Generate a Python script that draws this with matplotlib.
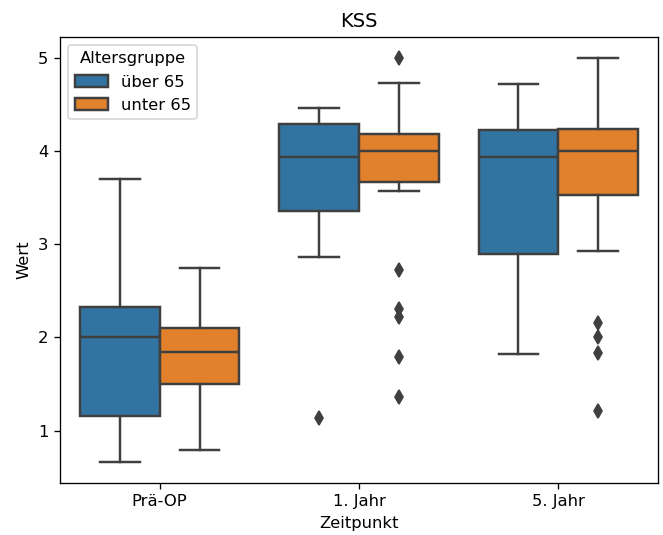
import matplotlib
matplotlib.use("Agg")
import matplotlib.pyplot as plt
from matplotlib.patches import Patch

# Values (box statistics per time point and age group)
zeitpunkte = ["Prä-OP", "1. Jahr", "5. Jahr"]
gruppen = ["über 65", "unter 65"]

# über 65
ueber_whislo = [0.66, 2.86, 1.82]
ueber_q1 = [1.16, 3.36, 2.90]
ueber_med = [2.00, 3.94, 3.94]
ueber_q3 = [2.33, 4.29, 4.22]
ueber_whishi = [3.70, 4.465, 4.72]
ueber_fliers = [[], [1.14], []]

# unter 65
unter_whislo = [0.79, 3.575, 2.93]
unter_q1 = [1.50, 3.67, 3.53]
unter_med = [1.84, 4.00, 4.00]
unter_q3 = [2.10, 4.18, 4.23]
unter_whishi = [2.75, 4.73, 5.00]
unter_fliers = [[], [5.00, 2.72, 2.30, 2.22, 1.79, 1.36], [2.16, 2.00, 1.83, 1.21]]

colors = ["#3274a1", "#e1812c"]
line_col = "#3f3f3f"


def make_stats(whislo, q1, med, q3, whishi, fliers):
    return [dict(whislo=a, q1=b, med=c, q3=d, whishi=e, fliers=f)
            for a, b, c, d, e, f in zip(whislo, q1, med, q3, whishi, fliers)]


DPI = 118
fig = plt.figure(figsize=(663 / DPI, 535 / DPI), dpi=DPI)
ax = fig.add_axes([0.0905, 0.0978, 0.902, 0.8336])

all_stats = [
    make_stats(ueber_whislo, ueber_q1, ueber_med, ueber_q3, ueber_whishi, ueber_fliers),
    make_stats(unter_whislo, unter_q1, unter_med, unter_q3, unter_whishi, unter_fliers),
]
offsets = [-0.2, 0.2]

for stats, off, col in zip(all_stats, offsets, colors):
    pos = [i + off for i in range(len(zeitpunkte))]
    ax.bxp(stats, positions=pos, widths=0.4, patch_artist=True, manage_ticks=False,
           boxprops=dict(facecolor=col, edgecolor=line_col, linewidth=1.5),
           medianprops=dict(color=line_col, linewidth=1.5),
           whiskerprops=dict(color=line_col, linewidth=1.5),
           capprops=dict(color=line_col, linewidth=1.5),
           flierprops=dict(marker="d", markerfacecolor=line_col, markeredgecolor=line_col,
                           markersize=6, linestyle="none"))

ax.set_xticks(range(len(zeitpunkte)))
ax.set_xticklabels(zeitpunkte)
ax.set_xlim(-0.5, 2.5)
ax.set_ylim(0.443, 5.225)
ax.set_yticks([1, 2, 3, 4, 5])
ax.set_xlabel("Zeitpunkt")
ax.set_ylabel("Wert")
ax.set_title("KSS")

handles = [Patch(facecolor=c, edgecolor=line_col, linewidth=1.5, label=g)
           for c, g in zip(colors, gruppen)]
ax.legend(handles=handles, title="Altersgruppe", loc="upper left")

fig.savefig("out.png", dpi=DPI)
